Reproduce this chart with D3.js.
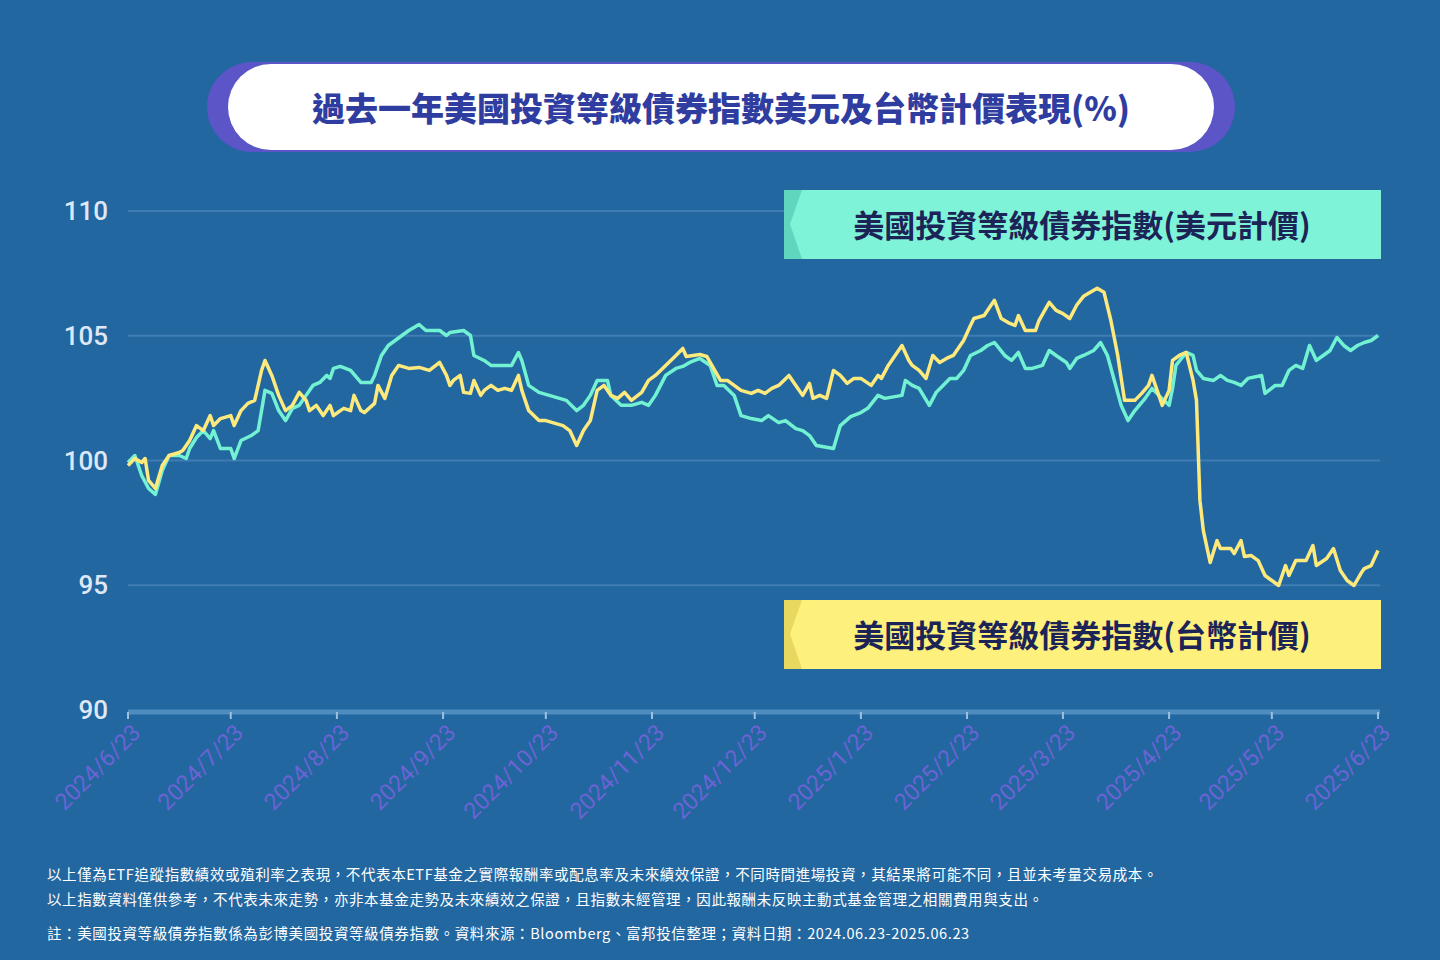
<!DOCTYPE html>
<html>
<head>
<meta charset="utf-8">
<script src="https://cdn.jsdelivr.net/npm/d3@7"></script>
<style>
  body { margin: 0; background: #2267a0; }
  svg { display: block; font-family: "Noto Sans CJK TC", "Noto Sans", sans-serif; }
</style>
</head>
<body>
<svg id="chart" width="1440" height="960"></svg>
<script>
// Data: day offset from 2024/6/23 and index level
const usdDays = [0,2,4,6,8,10,12,15,17,18,20,22,24,25,27,30,31,33,36,38,39,40,42,44,46,48,50,52,54,56,58,59,60,62,65,67,68,71,72,74,76,78,80,82,85,87,91,93,94,98,100,101,104,106,112,114,115,117,120,123,126,128,131,133,135,137,140,141,144,147,150,152,154,157,160,162,164,167,170,172,174,177,179,182,185,187,190,192,195,197,199,201,206,208,211,214,216,219,221,226,227,229,231,234,236,238,240,242,244,246,249,251,253,256,258,260,262,264,267,269,271,274,275,277,279,282,284,286,288,290,292,294,297,299,301,304,305,306,309,311,312,314,317,319,321,323,325,327,331,332,335,337,339,341,343,345,347,349,351,353,355,357,359,361,363,365];
const usdValues = [99.92,100.2,99.4,98.88,98.64,99.6,100.2,100.2,100.08,100.48,100.92,101.2,100.88,101.2,100.48,100.48,100.08,100.8,101,101.2,102,102.81,102.69,102,101.6,102.09,102.21,102.61,103.01,103.13,103.41,103.29,103.69,103.77,103.61,103.29,103.13,103.13,103.41,104.21,104.61,104.81,105.01,105.21,105.45,105.21,105.21,105.01,105.13,105.21,105.01,104.21,104.01,103.81,103.81,104.33,104.01,103.01,102.73,102.61,102.49,102.41,102,102.21,102.61,103.21,103.21,102.61,102.21,102.21,102.33,102.21,102.61,103.41,103.69,103.77,103.93,104.09,103.81,103.01,103.01,102.61,101.8,101.68,101.6,101.8,101.52,101.6,101.28,101.2,101,100.6,100.48,101.4,101.76,101.92,102.09,102.61,102.49,102.61,103.21,103.01,102.89,102.21,102.73,103.01,103.29,103.29,103.61,104.21,104.41,104.61,104.73,104.21,104.01,104.33,103.69,103.69,103.81,104.41,104.21,103.93,103.69,104.09,104.21,104.41,104.73,104.21,103.21,102.21,101.6,102,102.49,102.89,102.61,102.21,102.89,103.81,104.33,104.21,103.61,103.29,103.21,103.41,103.21,103.13,103.01,103.29,103.41,102.69,103.01,103.01,103.61,103.81,103.69,104.61,104.01,104.21,104.41,104.93,104.61,104.41,104.61,104.73,104.81,105.01];

const twdDays = [0,2,4,5,6,8,10,12,15,16,18,20,22,24,25,27,30,31,33,35,37,39,40,42,44,46,48,50,52,53,55,57,59,60,62,63,65,66,68,69,72,73,75,77,79,82,85,88,91,93,94,95,97,98,100,101,103,104,106,108,110,112,114,115,117,120,122,125,127,129,131,133,135,137,139,141,143,145,147,150,152,154,157,160,162,163,167,169,171,173,175,177,179,182,184,186,188,190,193,195,197,199,200,202,204,206,208,210,212,214,217,219,220,222,225,226,228,229,231,233,235,237,239,241,243,244,246,247,250,252,253,255,257,259,260,262,265,266,269,271,273,275,277,279,281,283,285,287,289,291,294,296,298,299,301,302,304,305,307,309,311,312,313,314,316,318,319,322,323,325,326,328,330,332,334,336,338,339,341,344,346,347,350,352,354,356,358,360,361,363,365];
const twdValues = [99.8,100.08,99.92,100.08,99.2,98.88,99.8,100.2,100.32,100.4,100.8,101.4,101.2,101.8,101.4,101.68,101.8,101.4,102,102.29,102.41,103.61,104.01,103.41,102.61,102,102.21,102.73,102.41,102,102.21,101.8,102.21,101.8,102,102.09,102,102.61,102,101.92,102.29,103.01,102.49,103.41,103.81,103.69,103.73,103.61,103.93,103.41,103.01,103.21,103.41,102.73,102.69,103.21,102.61,102.81,103.01,102.81,102.89,102.81,103.41,102.81,102,101.6,101.6,101.48,101.4,101.2,100.6,101.2,101.6,102.81,103.01,102.61,102.49,102.73,102.41,102.73,103.21,103.41,103.81,104.21,104.49,104.17,104.25,104.17,103.69,103.21,103.21,103.01,102.81,102.69,102.81,102.69,102.89,103.01,103.41,103.01,102.61,103.09,102.49,102.61,102.49,103.61,103.41,103.09,103.29,103.29,103.01,103.41,103.29,103.81,104.41,104.61,104.01,103.81,103.61,103.29,104.21,103.93,104.09,104.21,104.61,104.81,105.41,105.69,105.81,106.22,106.42,105.69,105.53,105.41,105.81,105.21,105.21,105.61,106.34,106.02,105.89,105.69,106.22,106.58,106.74,106.9,106.74,105.61,104.21,102.41,102.41,102.69,103.01,103.41,102.61,102.21,102.81,104.01,104.21,104.33,103.21,102.41,98.4,97.19,95.91,96.79,96.47,96.47,96.27,96.79,96.15,96.19,95.99,95.39,95.19,94.99,95.79,95.39,95.99,95.99,96.59,95.79,96.07,96.47,95.59,95.19,94.99,95.47,95.67,95.79,96.39];

const yTicks = [90, 95, 100, 105, 110];
const xTickLabels = ['2024/6/23','2024/7/23','2024/8/23','2024/9/23','2024/10/23','2024/11/23','2024/12/23','2025/1/23','2025/2/23','2025/3/23','2025/4/23','2025/5/23','2025/6/23'];
const title = '過去一年美國投資等級債券指數美元及台幣計價表現(%)';
const legendUsd = '美國投資等級債券指數(美元計價)';
const legendTwd = '美國投資等級債券指數(台幣計價)';
const notes = [
  '以上僅為ETF追蹤指數績效或殖利率之表現，不代表本ETF基金之實際報酬率或配息率及未來績效保證，不同時間進場投資，其結果將可能不同，且並未考量交易成本。',
  '以上指數資料僅供參考，不代表未來走勢，亦非本基金走勢及未來績效之保證，且指數未經管理，因此報酬未反映主動式基金管理之相關費用與支出。',
  '註：美國投資等級債券指數係為彭博美國投資等級債券指數。資料來源：Bloomberg、富邦投信整理；資料日期：2024.06.23-2025.06.23'
];

const start = new Date(2024, 5, 23);
const parse = d3.timeParse('%Y/%m/%d');
const toSeries = (days, vals) => days.map((d, i) => ({date: d3.timeDay.offset(start, d), v: vals[i]}));
const usd = toSeries(usdDays, usdValues);
const twd = toSeries(twdDays, twdValues);

const svg = d3.select('#chart');
const x = d3.scaleTime().domain([start, new Date(2025, 5, 23)]).range([128, 1378]);
const y = d3.scaleLinear().domain([90, 110]).range([710, 211]);

// title pill
svg.append('rect').at = null;
svg.append('rect').attr('x', 207).attr('y', 62).attr('width', 1028).attr('height', 90).attr('rx', 45).attr('fill', '#5b55c8');
svg.append('rect').attr('x', 228).attr('y', 64).attr('width', 986).attr('height', 86).attr('rx', 43).attr('fill', '#ffffff');
svg.append('text').attr('x', 721).attr('y', 121).attr('text-anchor', 'middle')
  .attr('font-size', 33).attr('font-weight', 900).attr('fill', '#2f3da0').text(title);

// grid
svg.append('g').selectAll('line').data(yTicks.filter(t => t > 90)).join('line')
  .attr('x1', 128).attr('x2', 1380).attr('y1', d => y(d)).attr('y2', d => y(d))
  .attr('stroke', '#3f7db3').attr('stroke-width', 2);

svg.append('g').selectAll('text').data(yTicks).join('text')
  .attr('x', 108).attr('y', d => y(d) + 9).attr('text-anchor', 'end')
  .attr('font-family', 'Roboto, sans-serif').attr('font-size', 26).attr('font-weight', 500)
  .attr('fill', '#dfe7f7').text(d => d);

// x axis
svg.append('line').attr('x1', 128).attr('x2', 1380).attr('y1', 712).attr('y2', 712)
  .attr('stroke', '#4f8cbf').attr('stroke-width', 5);
const xt = svg.append('g').selectAll('g').data(xTickLabels).join('g')
  .attr('transform', d => `translate(${x(parse(d))},712)`);
xt.append('line').attr('y1', 0).attr('y2', 7).attr('stroke', '#9fc0dd').attr('stroke-width', 2);
xt.append('text').attr('transform', 'translate(14,22) rotate(-45)').attr('text-anchor', 'end')
  .attr('font-family', 'Roboto, sans-serif').attr('font-size', 23).attr('fill', '#6c63d4').text(d => d);

// lines
const line = d3.line().x(d => x(d.date)).y(d => y(d.v)).curve(d3.curveLinear);
svg.append('path').datum(usd).attr('d', line).attr('fill', 'none')
  .attr('stroke', '#72f2d2').attr('stroke-width', 3.5).attr('stroke-linejoin', 'round');
svg.append('path').datum(twd).attr('d', line).attr('fill', 'none')
  .attr('stroke', '#fde97c').attr('stroke-width', 3.5).attr('stroke-linejoin', 'round');

// legend boxes
function legendBox(y0, fill, edge, label) {
  const g = svg.append('g');
  g.append('rect').attr('x', 784).attr('y', y0).attr('width', 597).attr('height', 69).attr('fill', fill);
  g.append('path').attr('d', `M784,${y0} L802,${y0} L790,${y0 + 34} L802,${y0 + 69} L784,${y0 + 69} Z`).attr('fill', edge);
  g.append('text').attr('x', 1082).attr('y', y0 + 47).attr('text-anchor', 'middle')
    .attr('font-size', 31).attr('font-weight', 700).attr('fill', '#1c2457').text(label);
}
legendBox(190, '#7ff3d7', '#5fd6bd', legendUsd);
legendBox(600, '#fdf07c', '#e9d85f', legendTwd);

// footnotes
svg.append('g').selectAll('text').data(notes).join('text')
  .attr('x', 47).attr('y', (d, i) => [880, 905, 939][i])
  .attr('font-size', 14.5).attr('letter-spacing', 0.6).attr('fill', '#ffffff').text(d => d);
</script>
</body>
</html>
